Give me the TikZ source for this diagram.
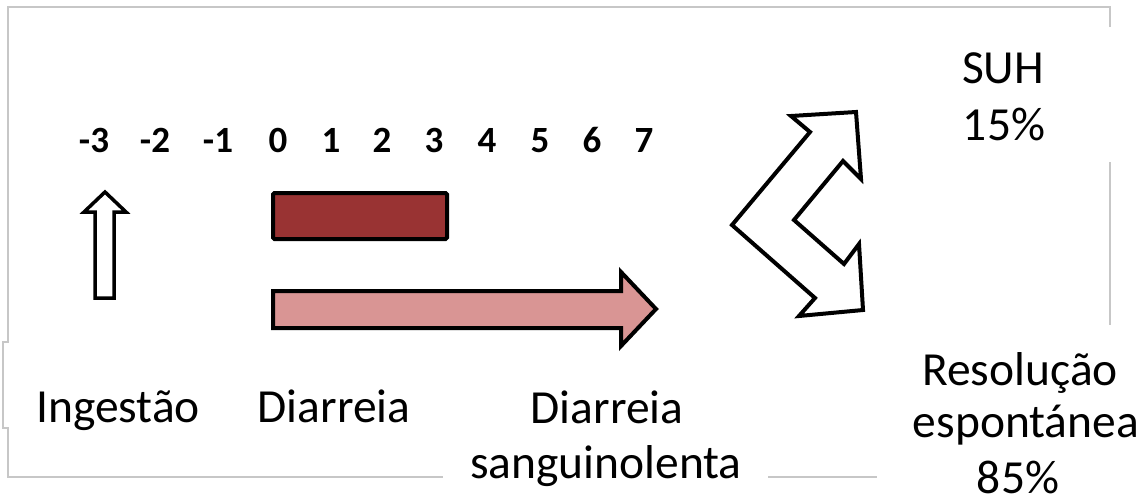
\documentclass[tikz,border=0pt]{standalone}
\usepackage{fontspec}
\setmainfont{Carlito}
\begin{document}
\begin{tikzpicture}[x=1pt,y=-1pt,
  lbl/.style={anchor=base,inner sep=0pt,font=\fontsize{47.5}{56}\selectfont},
  daynum/.style={anchor=base,inner sep=0pt,font=\fontsize{37}{40}\selectfont\bfseries},
  frameline/.style={draw=black!22,line width=1.6pt},
  outline/.style={draw=black,line width=4pt,line join=miter}]
\useasboundingbox (0,0) rectangle (1148,498);

% broken gray frame
\draw[frameline] (1110,27) -- (1110,7) -- (8,7) -- (8,342) -- (3,342) -- (3,428) -- (8,428) -- (8,477) -- (443,477);
\draw[frameline] (768,477) -- (877,477);
\draw[frameline] (1110,162) -- (1110,325);

% day scale
\foreach \lab/\xx in {-3/94,-2/155,-1/218,0/278,1/331,2/382,3/434,4/487,5/540,6/592,7/644}
  \node[daynum] (d\lab) at (\xx,152) {\lab};

% ingestion arrow
\draw[outline,fill=white,line width=3.5pt] (95,298) -- (95,212) -- (84,212) -- (105,192) -- (126,212) -- (114,212) -- (114,298) -- cycle;

% diarrhoea bar
\draw[outline,fill={rgb,255:red,153;green,51;blue,51},rounded corners=1.5pt] (273,193) rectangle (447,239);

% bloody diarrhoea arrow
\draw[outline,fill={rgb,255:red,217;green,149;blue,148}] (273,291) -- (621,291) -- (621,272) -- (656,309) -- (621,346) -- (621,328) -- (273,328) -- cycle;

% outcome split arrow
\draw[outline,fill=white] (732,225) -- (810,132) -- (791,116) -- (856,112) -- (861,179) -- (843,161) -- (794,220) -- (844,264) -- (859,244) -- (863,310) -- (799,316) -- (815,298) -- cycle;

% labels
\node[lbl] (ing) at (118,422) {Ingestão};
\node[lbl] (dia) at (334,422) {Diarreia};
\node[lbl] (sang1) at (607,423) {Diarreia};
\node[lbl] (sang2) at (606,478) {sanguinolenta};
\node[lbl] (suh1) at (1003,83) {SUH};
\node[lbl] (suh2) at (1004,140) {15\%};
\node[lbl] (res1) at (1020,385) {Resolução};
\node[lbl] (res2) at (1026,437) {espontánea};
\node[lbl] (res3) at (1018,493) {85\%};
\end{tikzpicture}
\end{document}
